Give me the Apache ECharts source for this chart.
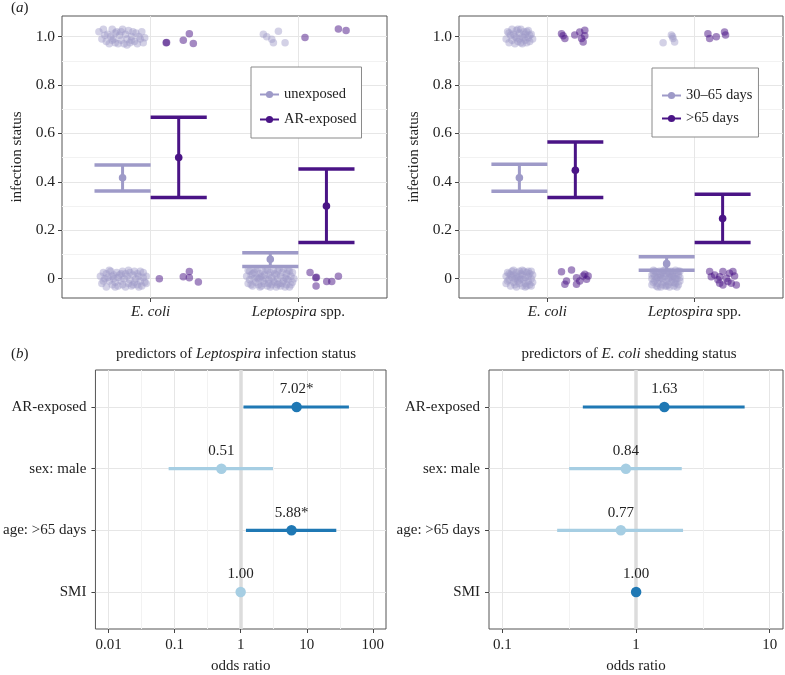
<!DOCTYPE html>
<html lang="en">
<head>
<meta charset="utf-8">
<title>infection status and odds ratios</title>
<script src="https://cdn.jsdelivr.net/npm/echarts@6/dist/echarts.min.js"></script>
<style>
html, body { margin: 0; padding: 0; background: #fff; }
#main { width: 785px; height: 675px; }
</style>
</head>
<body>
<div id="main"></div>
<script>
// ---- panel (a): categories and group summaries (mean, lower, upper) ----
var genus = ['E. coli', 'Leptospira'];
var genusSuffix = ['', ' spp.'];
var yTicksA = [0, 0.2, 0.4, 0.6, 0.8, 1.0];
var yMinorA = [0.1, 0.3, 0.5, 0.7, 0.9];

var unexpMean = [0.417, 0.080], unexpLow = [0.362, 0.050], unexpHigh = [0.469, 0.107];
var arMean = [0.500, 0.300], arLow = [0.335, 0.149], arHigh = [0.667, 0.453];
var youngMean = [0.417, 0.062], youngLow = [0.361, 0.035], youngHigh = [0.473, 0.090];
var oldMean = [0.448, 0.248], oldLow = [0.335, 0.149], oldHigh = [0.564, 0.349];

// jittered observations [x, status]
var unexpPts = [
  [0.65,1.02],[0.67,0.99],[0.68,1.03],[0.70,0.98],[0.71,1.01],[0.72,0.97],[0.73,1.00],[0.74,1.03],[0.75,0.99],
  [0.76,0.975],[0.77,1.02],[0.78,0.97],[0.79,1.005],[0.80,0.985],[0.81,1.03],[0.82,0.97],[0.83,1.01],[0.84,0.99],
  [0.85,1.025],[0.86,0.975],[0.87,1.00],[0.88,1.02],[0.89,0.98],[0.90,1.015],[0.91,0.97],[0.92,1.00],[0.93,0.99],
  [0.94,1.02],[0.95,0.975],[0.96,0.995],[0.69,1.005],[0.76,1.015],[0.84,0.965],[0.87,0.985],[0.80,1.02],[0.74,0.985],
  [0.66,0.01],[0.67,-0.02],[0.68,0.025],[0.69,0.0],[0.70,-0.035],[0.70,0.02],[0.71,0.005],[0.72,-0.01],[0.73,0.03],
  [0.74,-0.025],[0.74,0.01],[0.75,0.0],[0.76,-0.015],[0.77,0.025],[0.78,-0.03],[0.78,0.005],[0.79,0.015],[0.80,-0.01],
  [0.81,0.03],[0.81,-0.025],[0.82,0.0],[0.83,-0.035],[0.83,0.02],[0.84,0.01],[0.85,-0.02],[0.86,0.025],[0.86,-0.005],
  [0.87,-0.03],[0.88,0.015],[0.89,-0.015],[0.89,0.03],[0.90,0.0],[0.91,-0.025],[0.91,0.02],[0.92,0.01],[0.93,-0.01],
  [0.93,0.03],[0.94,-0.03],[0.95,0.005],[0.95,0.025],[0.96,-0.015],[0.97,0.01],[0.72,0.035],[0.76,-0.035],[0.80,0.02],
  [0.85,0.035],[0.88,-0.025],[0.92,-0.035],[0.68,-0.01],[0.75,0.015],[0.97,-0.02],
  [1.763,1.010],[1.786,0.999],[1.820,0.989],[1.831,0.974],[1.865,1.022],[1.910,0.974],
  [1.65,0.01],[1.66,-0.02],[1.67,0.03],[1.67,-0.005],[1.68,0.015],[1.69,-0.03],[1.70,0.0],[1.70,0.025],[1.71,-0.015],
  [1.72,0.035],[1.72,0.005],[1.73,-0.025],[1.74,0.02],[1.74,-0.035],[1.75,0.01],[1.76,-0.01],[1.76,0.03],[1.77,-0.02],
  [1.78,0.0],[1.78,0.04],[1.79,-0.03],[1.80,0.015],[1.80,-0.005],[1.81,0.025],[1.82,-0.025],[1.82,0.005],[1.83,0.035],
  [1.84,-0.015],[1.84,0.02],[1.85,-0.035],[1.86,0.0],[1.86,0.03],[1.87,-0.02],[1.88,0.01],[1.88,-0.03],[1.89,0.025],
  [1.90,-0.01],[1.90,0.04],[1.91,0.005],[1.92,-0.025],[1.92,0.02],[1.93,-0.005],[1.94,0.03],[1.94,-0.035],[1.95,0.01],
  [1.96,-0.015],[1.96,0.025],[1.97,0.0],[1.66,0.035],[1.69,0.02],[1.71,0.04],[1.73,0.0],[1.75,-0.03],[1.77,0.015],
  [1.79,0.035],[1.81,-0.035],[1.83,-0.01],[1.85,0.015],[1.87,0.04],[1.89,-0.02],[1.91,-0.035],[1.93,0.035],[1.95,-0.025],
  [1.68,-0.025],[1.74,0.005],[1.80,-0.02],[1.86,-0.025],[1.92,0.0]
];
var arPts = [
  [1.105,0.974],[1.108,0.976],[1.221,0.985],[1.262,1.012],[1.289,0.971],
  [1.059,0.0],[1.221,0.008],[1.262,0.029],[1.262,0.004],[1.323,-0.014],
  [2.045,0.996],[2.271,1.031],[2.323,1.025],
  [2.079,0.025],[2.118,0.004],[2.122,0.006],[2.120,-0.030],[2.192,-0.012],[2.226,-0.012],[2.271,0.010]
];
var youngPts = [
  [0.72,0.99],[0.73,1.02],[0.74,0.975],[0.75,1.005],[0.76,1.03],[0.76,0.985],[0.77,1.01],[0.78,0.97],[0.79,0.995],
  [0.79,1.025],[0.80,0.98],[0.81,1.015],[0.81,0.99],[0.82,1.03],[0.83,0.97],[0.83,1.0],[0.84,1.02],[0.85,0.985],
  [0.85,1.01],[0.86,0.975],[0.87,1.025],[0.87,0.995],[0.88,0.98],[0.89,1.01],[0.90,0.99],[0.74,1.015],[0.78,1.0],
  [0.80,1.03],[0.82,0.975],[0.84,0.995],[0.86,1.02],[0.88,1.005],
  [0.72,0.01],[0.72,-0.02],[0.73,0.025],[0.74,-0.005],[0.74,0.02],[0.75,-0.03],[0.76,0.005],[0.76,0.03],[0.77,-0.015],
  [0.77,0.015],[0.78,-0.025],[0.78,0.0],[0.79,0.025],[0.79,-0.035],[0.80,0.01],[0.80,-0.01],[0.81,0.03],[0.81,-0.02],
  [0.82,0.0],[0.82,0.02],[0.83,-0.03],[0.83,0.015],[0.84,-0.005],[0.84,0.03],[0.85,-0.02],[0.85,0.005],[0.86,0.025],
  [0.86,-0.03],[0.87,0.01],[0.87,-0.01],[0.88,0.02],[0.88,-0.025],[0.89,0.0],[0.89,0.03],[0.90,-0.015],[0.90,0.015],
  [0.73,-0.01],[0.75,0.015],[0.77,0.035],[0.79,0.005],[0.81,-0.005],[0.83,0.035],[0.85,-0.035],[0.87,0.03],[0.89,-0.03],
  [1.786,0.975],[1.842,1.006],[1.853,0.992],[1.864,0.978],[1.850,1.000],
  [1.71,0.0],[1.71,-0.025],[1.72,0.02],[1.72,0.035],[1.73,-0.01],[1.73,0.01],[1.74,-0.03],[1.74,0.025],[1.75,0.005],
  [1.75,-0.02],[1.76,0.03],[1.76,-0.005],[1.77,0.015],[1.77,-0.035],[1.78,0.0],[1.78,0.025],[1.79,-0.015],[1.79,0.035],
  [1.80,-0.03],[1.80,0.01],[1.81,0.02],[1.81,-0.01],[1.82,-0.025],[1.82,0.03],[1.83,0.005],[1.83,-0.035],[1.84,0.015],
  [1.84,-0.015],[1.85,0.025],[1.85,-0.005],[1.86,-0.03],[1.86,0.01],[1.87,0.035],[1.87,-0.02],[1.88,0.0],[1.88,0.02],
  [1.89,-0.025],[1.89,0.015],[1.90,-0.01],[1.90,0.03],[1.72,-0.015],[1.74,0.0],[1.76,0.015],[1.78,-0.025],[1.80,0.035],
  [1.82,0.0],[1.84,0.03],[1.86,-0.015],[1.88,-0.035],[1.90,0.005],[1.73,0.03],[1.75,-0.035],[1.77,0.005],[1.79,0.02],
  [1.81,-0.03],[1.83,0.02],[1.85,0.01],[1.87,0.0],[1.89,0.03],[1.71,0.015]
];
var oldPts = [
  [1.096,1.012],[1.107,1.003],[1.119,0.992],[1.186,1.006],[1.220,1.019],[1.254,1.026],[1.232,0.992],[1.243,0.978],[1.254,1.003],
  [1.096,0.028],[1.130,-0.010],[1.119,-0.023],[1.198,0.004],[1.220,-0.010],[1.243,0.011],[1.266,-0.003],[1.254,0.018],
  [1.277,0.011],[1.198,-0.023],[1.164,0.036],
  [2.090,1.012],[2.102,0.992],[2.147,0.999],[2.203,1.019],[2.210,1.006],
  [2.102,0.029],[2.136,0.015],[2.170,0.008],[2.192,0.029],[2.237,0.022],[2.271,0.011],[2.170,-0.019],[2.192,-0.026],
  [2.226,-0.012],[2.283,-0.026],[2.113,0.008],[2.158,-0.005],[2.215,0.002],[2.249,-0.019],[2.260,0.029]
];

// ---- panel (b): odds ratios with intervals ----
var predictors = ['AR-exposed', 'sex: male', 'age: >65 days', 'SMI'];
var leptoOR = [7.02, 0.51, 5.88, 0.998], leptoLow = [1.10, 0.081, 1.20, 0.97], leptoHigh = [43.5, 3.08, 28.0, 1.03];
var leptoStar = ['*', '', '*', ''];
var ecoliOR = [1.63, 0.84, 0.77, 1.002], ecoliLow = [0.40, 0.316, 0.257, 0.97], ecoliHigh = [6.5, 2.2, 2.25, 1.03];
var ecoliStar = ['', '', '', ''];
var leptoTicks = [0.01, 0.1, 1, 10, 100];
var ecoliTicks = [0.1, 1, 10];

var FONT = '"Liberation Serif", "Times New Roman", serif';
var TXT = '#222';
var LIGHT_P = '#9e9ac8', DARK_P = '#4a1486';
var DARK_B = '#1f78b4', LIGHT_B = '#a6cee3';
var DODGE = 0.19;

function lg(v) { return Math.log10(v); }
function fmtOR(v) { return String(parseFloat(Math.pow(10, v).toPrecision(3))); }

var chart = echarts.init(document.getElementById('main'));

function xCat(grid) {
  return {
    type: 'value', gridIndex: grid, min: 0.4, max: 2.6,
    axisLine: { show: false, onZero: false },
    axisTick: { show: true, length: 4, customValues: [1, 2], lineStyle: { color: '#444' } },
    axisLabel: {
      customValues: [1, 2], margin: 7, fontFamily: FONT, fontSize: 15, color: TXT,
      formatter: function (v) { return '{i|' + genus[v - 1] + '}' + genusSuffix[v - 1]; },
      rich: { i: { fontStyle: 'italic', fontFamily: FONT, fontSize: 15, color: TXT } }
    },
    splitLine: { show: true, lineStyle: { color: '#e6e6e6', width: 1 } }
  };
}
function yStatus(grid) {
  return {
    type: 'value', gridIndex: grid, min: -0.08, max: 1.085,
    name: 'infection status', nameLocation: 'middle', nameGap: 37,
    nameTextStyle: { fontFamily: FONT, fontSize: 15, color: TXT },
    axisLine: { show: false, onZero: false },
    axisTick: { show: true, length: 4, customValues: yTicksA, lineStyle: { color: '#444' } },
    axisLabel: {
      customValues: yTicksA, margin: 7, fontFamily: FONT, fontSize: 15.5, color: TXT,
      formatter: function (v) { return v === 0 ? '0' : v.toFixed(1); }
    },
    splitLine: { show: true, lineStyle: { color: '#e6e6e6', width: 1 } }
  };
}
function yStatusMinor(grid) {
  return {
    type: 'value', gridIndex: grid, min: -0.08, max: 1.085,
    axisLine: { show: false, onZero: false },
    axisTick: { show: false, customValues: yMinorA },
    axisLabel: { show: false },
    splitLine: { show: true, lineStyle: { color: '#f2f2f2', width: 1 } }
  };
}
function xLog(grid, lo, hi, ticks) {
  var vals = ticks.map(lg);
  return {
    type: 'value', gridIndex: grid, min: lo, max: hi,
    name: 'odds ratio', nameLocation: 'middle', nameGap: 30,
    nameTextStyle: { fontFamily: FONT, fontSize: 15, color: TXT },
    axisLine: { show: false, onZero: false },
    axisTick: { show: true, length: 4, customValues: vals, lineStyle: { color: '#444' } },
    axisLabel: { customValues: vals, margin: 9, fontFamily: FONT, fontSize: 15, color: TXT, formatter: fmtOR },
    splitLine: { show: true, lineStyle: { color: '#e6e6e6', width: 1 } }
  };
}
function xLogMinor(grid, lo, hi, ticks) {
  var vals = [];
  for (var i = 0; i < ticks.length - 1; i++) vals.push(lg(ticks[i]) + 0.5);
  return {
    type: 'value', gridIndex: grid, min: lo, max: hi,
    axisLine: { show: false, onZero: false },
    axisTick: { show: false, customValues: vals },
    axisLabel: { show: false },
    splitLine: { show: true, lineStyle: { color: '#f2f2f2', width: 1 } }
  };
}
function yPred(grid) {
  var vals = predictors.map(function (p, i) { return i + 1; });
  return {
    type: 'value', gridIndex: grid, min: 0.4, max: 4.6, inverse: true,
    axisLine: { show: false, onZero: false },
    axisTick: { show: true, length: 4, customValues: vals, lineStyle: { color: '#444' } },
    axisLabel: {
      customValues: vals, margin: 9, fontFamily: FONT, fontSize: 15, color: TXT,
      formatter: function (v) { return predictors[v - 1]; }
    },
    splitLine: { show: true, lineStyle: { color: '#e6e6e6', width: 1 } }
  };
}

function pointSeries(grid, pts, color, opacity) {
  return {
    type: 'scatter', xAxisIndex: grid, yAxisIndex: grid, data: pts, symbolSize: 7.5,
    silent: true, z: 2, itemStyle: { color: color, opacity: opacity }
  };
}
function barSeries(grid, means, lows, highs, side, color) {
  var data = means.map(function (m, i) { return [i + 1 + side * DODGE, m, lows[i], highs[i]]; });
  return {
    type: 'custom', xAxisIndex: grid, yAxisIndex: grid, data: data, silent: true, z: 3,
    renderItem: function (params, api) {
      var x = api.value(0);
      var pLo = api.coord([x, api.value(2)]);
      var pHi = api.coord([x, api.value(3)]);
      var pM = api.coord([x, api.value(1)]);
      var xl = api.coord([x - DODGE, 0])[0], xr = api.coord([x + DODGE, 0])[0];
      var st = { stroke: color, lineWidth: 3.5 };
      return {
        type: 'group', children: [
          { type: 'line', shape: { x1: xl, y1: pLo[1], x2: xr, y2: pLo[1] }, style: st },
          { type: 'line', shape: { x1: xl, y1: pHi[1], x2: xr, y2: pHi[1] }, style: st },
          { type: 'line', shape: { x1: pLo[0], y1: pLo[1], x2: pHi[0], y2: pHi[1] }, style: { stroke: color, lineWidth: 3 } },
          { type: 'circle', shape: { cx: pM[0], cy: pM[1], r: 3.8 }, style: { fill: color } }
        ]
      };
    }
  };
}
function legendSeries(grid, name, color) {
  return {
    type: 'line', name: name, xAxisIndex: grid, yAxisIndex: grid, data: [],
    symbol: 'circle', color: color, lineStyle: { width: 3.5, color: color }
  };
}
function forestSeries(grid, ors, lows, highs, stars) {
  var colorOf = function (v) { return v > 1 ? DARK_B : LIGHT_B; };
  var ci = {
    type: 'custom', xAxisIndex: grid, yAxisIndex: grid, silent: true, z: 2,
    data: ors.map(function (v, i) { return [lg(lows[i]), lg(highs[i]), i + 1, v]; }),
    renderItem: function (params, api) {
      var a = api.coord([api.value(0), api.value(2)]);
      var b = api.coord([api.value(1), api.value(2)]);
      return { type: 'line', shape: { x1: a[0], y1: a[1], x2: b[0], y2: b[1] },
        style: { stroke: colorOf(api.value(3)), lineWidth: 3.2 } };
    },
    markLine: {
      silent: true, symbol: 'none', z: 1, label: { show: false },
      lineStyle: { color: '#dcdcdc', width: 3.5, type: 'solid' },
      data: [{ xAxis: 0 }]
    }
  };
  var pts = {
    type: 'scatter', xAxisIndex: grid, yAxisIndex: grid, silent: true, z: 3, symbolSize: 10.5,
    data: ors.map(function (v, i) { return { value: [lg(v), i + 1], itemStyle: { color: colorOf(v), opacity: 1 } }; }),
    label: {
      show: true, position: 'top', distance: 5, fontFamily: FONT, fontSize: 15, color: TXT,
      formatter: function (p) { return ors[p.dataIndex].toFixed(2) + stars[p.dataIndex]; }
    }
  };
  return [ci, pts];
}

var richI = { i: { fontStyle: 'italic', fontFamily: FONT, fontSize: 15, color: TXT } };
function titleBox(text, left, top, align) {
  return {
    text: text, left: left, top: top, padding: 0, textAlign: align,
    textStyle: { fontFamily: FONT, fontSize: 15, fontWeight: 'normal', color: TXT, rich: richI }
  };
}
function legendBox(left, top, names, padding, gap) {
  return {
    left: left, top: top, orient: 'vertical', data: names, padding: padding,
    itemWidth: 19, itemHeight: 9, itemGap: gap, backgroundColor: '#fff',
    borderColor: '#8a8a8a', borderWidth: 1, selectedMode: false,
    textStyle: { fontFamily: FONT, fontSize: 14.5, color: TXT }
  };
}

var frame = { show: true, borderColor: '#555', borderWidth: 1, backgroundColor: 'transparent' };

var option = {
  animation: false,
  backgroundColor: '#fff',
  title: [
    titleBox('({i|a})', 11, 1, 'left'),
    titleBox('({i|b})', 11, 347, 'left'),
    titleBox('predictors of {i|Leptospira} infection status', 236, 347, 'center'),
    titleBox('predictors of {i|E. coli} shedding status', 629, 347, 'center')
  ],
  legend: [
    legendBox(251, 67, ['unexposed', 'AR-exposed'], [20, 5, 11, 8], 10),
    legendBox(652, 68, ['30–65 days', '>65 days'], [20, 6, 11, 9], 8)
  ],
  grid: [
    Object.assign({ left: 62, top: 16, width: 325, height: 282 }, frame),
    Object.assign({ left: 459, top: 16, width: 324, height: 282 }, frame),
    Object.assign({ left: 92, top: 370, width: 294, height: 260 }, frame),
    Object.assign({ left: 489, top: 370, width: 294, height: 260 }, frame)
  ],
  xAxis: [
    xCat(0), xCat(1),
    xLog(2, -2.2, 2.2, leptoTicks), xLog(3, -1.1, 1.1, ecoliTicks),
    xLogMinor(2, -2.2, 2.2, leptoTicks), xLogMinor(3, -1.1, 1.1, ecoliTicks)
  ],
  yAxis: [
    yStatus(0), yStatus(1), yPred(2), yPred(3), yStatusMinor(0), yStatusMinor(1)
  ],
  series: [
    pointSeries(0, unexpPts, LIGHT_P, 0.45),
    pointSeries(0, arPts, DARK_P, 0.5),
    pointSeries(1, youngPts, LIGHT_P, 0.45),
    pointSeries(1, oldPts, DARK_P, 0.5),
    barSeries(0, unexpMean, unexpLow, unexpHigh, -1, LIGHT_P),
    barSeries(0, arMean, arLow, arHigh, 1, DARK_P),
    barSeries(1, youngMean, youngLow, youngHigh, -1, LIGHT_P),
    barSeries(1, oldMean, oldLow, oldHigh, 1, DARK_P),
    legendSeries(0, 'unexposed', LIGHT_P),
    legendSeries(0, 'AR-exposed', DARK_P),
    legendSeries(1, '30–65 days', LIGHT_P),
    legendSeries(1, '>65 days', DARK_P)
  ].concat(forestSeries(2, leptoOR, leptoLow, leptoHigh, leptoStar))
   .concat(forestSeries(3, ecoliOR, ecoliLow, ecoliHigh, ecoliStar))
};

chart.setOption(option);
</script>
</body>
</html>
